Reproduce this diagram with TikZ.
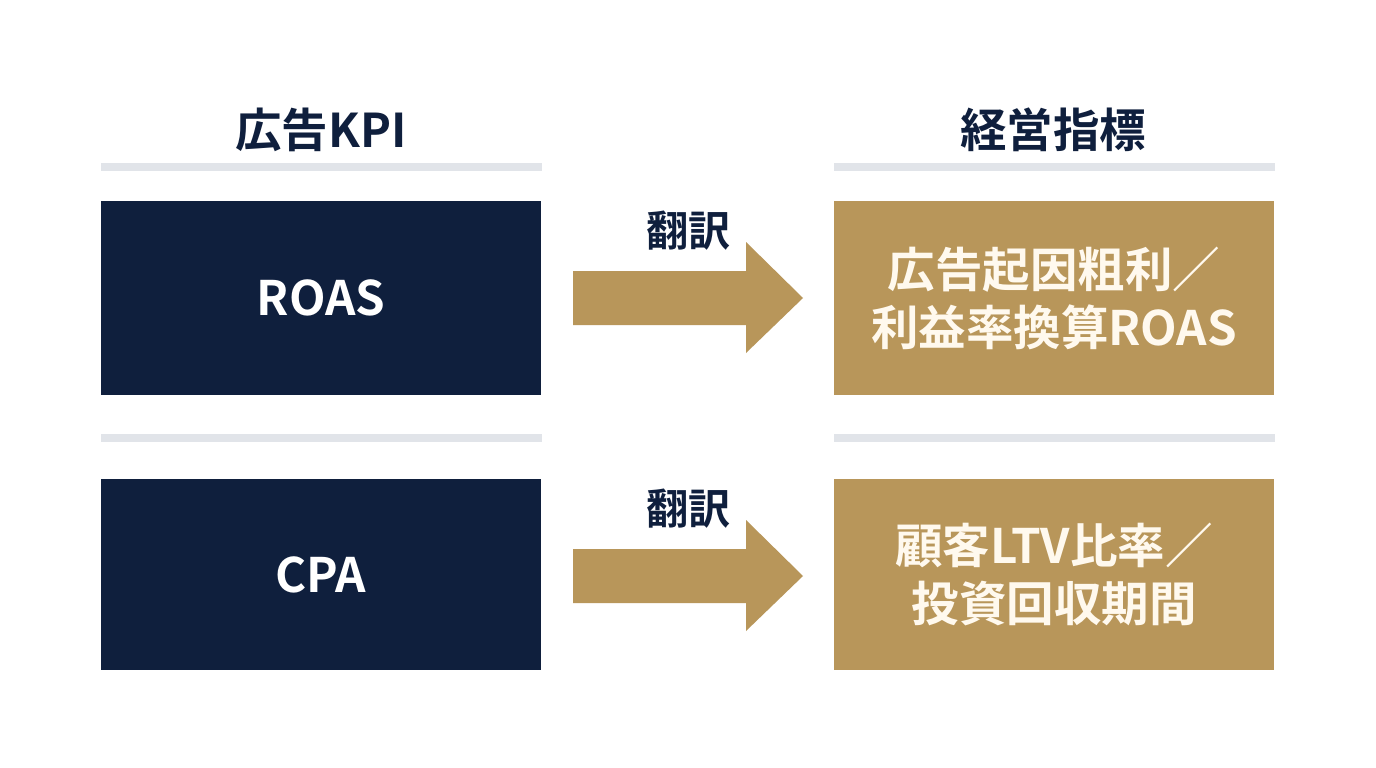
\documentclass[tikz,border=0pt]{standalone}
\usepackage{fontspec}
\setmainfont{Noto Sans CJK JP}[BoldFont={* Bold}]
\usetikzlibrary{calc}
\definecolor{navy}{HTML}{0F1F3D}
\definecolor{gold}{HTML}{B8965A}
\definecolor{barg}{HTML}{E1E4E9}
\definecolor{cream}{HTML}{FFF9EE}
\tikzset{
  box/.style={inner sep=0pt, minimum width=440pt, text width=436pt, align=center},
  kpibox/.style={box, fill=navy, text=white, font=\bfseries\fontsize{47.5}{56}\selectfont},
  mgmtbox/.style={box, fill=gold, text=cream, font=\bfseries\fontsize{47.5}{58}\selectfont},
  header/.style={text=navy, font=\bfseries\fontsize{46.5}{52}\selectfont, inner sep=0pt},
  xlabel/.style={text=navy, font=\bfseries\fontsize{42}{46}\selectfont, inner sep=0pt},
  divider/.style={fill=barg},
  bigarrow/.style={fill=gold}
}
\begin{document}
\begin{tikzpicture}[x=1pt,y=-1pt]
\useasboundingbox (0,0) rectangle (1376,768);
\fill[white] (0,0) rectangle (1376,768);
% headers
\node[header] (h1) at (321,130) {広告KPI};
\node[header] (h2) at (1053,130) {経営指標};
% dividers
\fill[divider] (101,163) rectangle (542,171);
\fill[divider] (834,163) rectangle (1275,171);
\fill[divider] (101,434) rectangle (542,442);
\fill[divider] (834,434) rectangle (1275,442);
% boxes
\node[kpibox, minimum height=194pt] (k1) at (321,298) {ROAS};
\node[kpibox, minimum height=191pt] (k2) at (321,574.5) {CPA};
\node[mgmtbox, minimum height=194pt] (m1) at (1054,298) {広告起因粗利／\\利益率換算ROAS};
\node[mgmtbox, minimum height=191pt] (m2) at (1054,574.5) {顧客LTV比率／\\投資回収期間};
% arrows
\foreach \a/\y in {1/298, 2/576}{
  \coordinate (s\a) at (573,\y);
  \coordinate (t\a) at (803,\y);
  \fill[bigarrow] ($(s\a)+(0,-27)$) -- ($(t\a)+(-57,-27)$) -- ($(t\a)+(-57,-56)$) -- (t\a)
     -- ($(t\a)+(-57,55)$) -- ($(t\a)+(-57,27)$) -- ($(s\a)+(0,27)$) -- cycle;
}
\node[xlabel] (l1) at (688,231) {翻訳};
\node[xlabel] (l2) at (688,509) {翻訳};
\end{tikzpicture}
\end{document}
